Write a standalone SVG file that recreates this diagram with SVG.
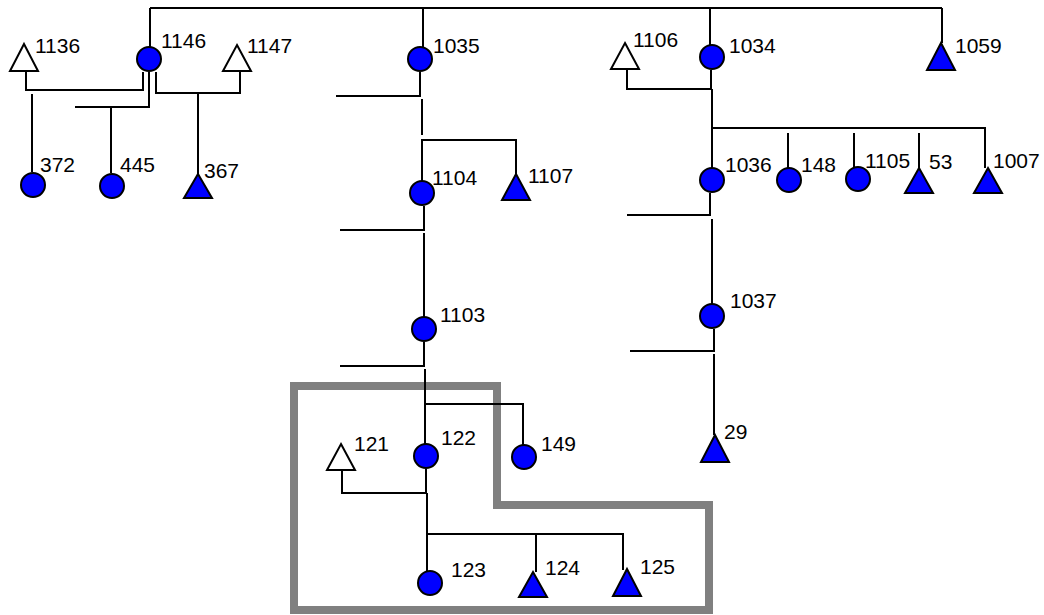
<svg xmlns="http://www.w3.org/2000/svg" width="1044" height="615" viewBox="0 0 1044 615">
<defs>
<style>
.bg{fill:#ffffff}
.ln{fill:none;stroke:#000;stroke-width:2}
.c{fill:#0000ff;stroke:#000;stroke-width:2}
.tf{fill:#0000ff;stroke:#000;stroke-width:2;stroke-linejoin:miter}
.to{fill:#ffffff;stroke:#000;stroke-width:2;stroke-linejoin:miter}
.lb{font-family:"Liberation Sans",Arial,sans-serif;font-size:21px;fill:#000}
.box{fill:none;stroke:#808080;stroke-width:8}
</style>
</defs>
<rect class="bg" x="0" y="0" width="1044" height="615"/>
<g id="region">
<path class="box" d="M294,386 H497 V505 H709 V610 H294 Z"/>
</g>
<g id="connectors">
<path class="ln" d="M150,8 H942"/>
<path class="ln" d="M150,8 V47"/>
<path class="ln" d="M143,72 V90 H26 V71"/>
<path class="ln" d="M32,94 V172"/>
<path class="ln" d="M149,72 V107 H75"/>
<path class="ln" d="M111,107 V173"/>
<path class="ln" d="M156,72 V93 H240 V71"/>
<path class="ln" d="M198,94 V174"/>
<path class="ln" d="M423,8 V47"/>
<path class="ln" d="M420,72 V96 H336"/>
<path class="ln" d="M422,99 V135"/>
<path class="ln" d="M422,181 V140 H516 V174"/>
<path class="ln" d="M424,206 V230 H340"/>
<path class="ln" d="M424,233 V317"/>
<path class="ln" d="M424,342 V366 H340"/>
<path class="ln" d="M425,369 V444"/>
<path class="ln" d="M425,404 H523 V445"/>
<path class="ln" d="M426,469 V493 H342 V470"/>
<path class="ln" d="M427,493 V571"/>
<path class="ln" d="M427,534 H623 V570"/>
<path class="ln" d="M536,534 V572"/>
<path class="ln" d="M710,8 V45"/>
<path class="ln" d="M942,8 V43"/>
<path class="ln" d="M711,70 V89 H627 V69"/>
<path class="ln" d="M712,89 V168"/>
<path class="ln" d="M712,128 H985 V168"/>
<path class="ln" d="M788,133 V168"/>
<path class="ln" d="M854,133 V167"/>
<path class="ln" d="M919,133 V168"/>
<path class="ln" d="M710,193 V215 H627"/>
<path class="ln" d="M712,219 V304"/>
<path class="ln" d="M714,329 V351 H630"/>
<path class="ln" d="M714,354 V435"/>
</g>
<g id="n1136"><polygon class="to" points="24,44 38,71 10,71"/><text class="lb" x="35" y="53">1136</text></g>
<g id="n1146"><circle class="c" cx="149" cy="59" r="12"/><text class="lb" x="161" y="48">1146</text></g>
<g id="n1147"><polygon class="to" points="237,45 251,71 223,71"/><text class="lb" x="247" y="53">1147</text></g>
<g id="n372"><circle class="c" cx="33" cy="185" r="12"/><text class="lb" x="40" y="172">372</text></g>
<g id="n445"><circle class="c" cx="112" cy="186" r="12"/><text class="lb" x="120" y="172">445</text></g>
<g id="n367"><polygon class="tf" points="198,174 212,198 184,198"/><text class="lb" x="204" y="178">367</text></g>
<g id="n1035"><circle class="c" cx="420" cy="59" r="12"/><text class="lb" x="433" y="53">1035</text></g>
<g id="n1104"><circle class="c" cx="422" cy="193" r="12"/><text class="lb" x="432" y="185">1104</text></g>
<g id="n1107"><polygon class="tf" points="516,174 530,200 502,200"/><text class="lb" x="528" y="183">1107</text></g>
<g id="n1103"><circle class="c" cx="424" cy="329" r="12"/><text class="lb" x="440" y="322">1103</text></g>
<g id="n149"><circle class="c" cx="524" cy="457" r="12"/><text class="lb" x="541" y="451">149</text></g>
<g id="n122"><circle class="c" cx="426" cy="456" r="12"/><text class="lb" x="441" y="445">122</text></g>
<g id="n121"><polygon class="to" points="341,444 355,470 327,470"/><text class="lb" x="354" y="451">121</text></g>
<g id="n123"><circle class="c" cx="430" cy="583" r="12"/><text class="lb" x="451" y="577">123</text></g>
<g id="n124"><polygon class="tf" points="533,572 547,597 519,597"/><text class="lb" x="545" y="575">124</text></g>
<g id="n125"><polygon class="tf" points="627,569 641,596 613,596"/><text class="lb" x="640" y="574">125</text></g>
<g id="n1034"><circle class="c" cx="712" cy="57" r="12"/><text class="lb" x="729" y="53">1034</text></g>
<g id="n1059"><polygon class="tf" points="941,43 955,70 927,70"/><text class="lb" x="955" y="53">1059</text></g>
<g id="n1106"><polygon class="to" points="625,43 639,69 611,69"/><text class="lb" x="633" y="47">1106</text></g>
<g id="n1036"><circle class="c" cx="712" cy="180" r="12"/><text class="lb" x="725" y="172">1036</text></g>
<g id="n148"><circle class="c" cx="789" cy="180" r="12"/><text class="lb" x="801" y="172">148</text></g>
<g id="n1105"><circle class="c" cx="858" cy="179" r="12"/><text class="lb" x="865" y="168">1105</text></g>
<g id="n53"><polygon class="tf" points="919,168 933,193 905,193"/><text class="lb" x="929" y="169">53</text></g>
<g id="n1007"><polygon class="tf" points="988,168 1002,193 974,193"/><text class="lb" x="993" y="168">1007</text></g>
<g id="n1037"><circle class="c" cx="712" cy="316" r="12"/><text class="lb" x="730" y="308">1037</text></g>
<g id="n29"><polygon class="tf" points="715,435 729,462 701,462"/><text class="lb" x="724" y="439">29</text></g>
</svg>
